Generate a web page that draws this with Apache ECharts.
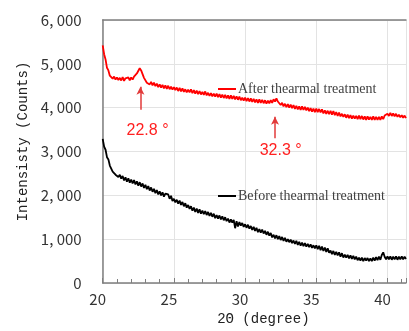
<!DOCTYPE html>
<html><head><meta charset="utf-8">
<script src="https://cdn.jsdelivr.net/npm/echarts@6/dist/echarts.min.js"></script>
<style>html,body{margin:0;padding:0;background:#fff}#c{width:409px;height:331px}</style>
</head><body><div id="c"></div>
<script>
const twoTheta = [
20.0,20.1,20.2,20.3,20.4,20.5,20.6,20.7,20.8,20.9,
21.0,21.1,21.2,21.3,21.4,21.5,21.6,21.7,21.8,21.9,
22.0,22.1,22.2,22.3,22.4,22.5,22.6,22.7,22.8,22.9,
23.0,23.1,23.2,23.3,23.4,23.5,23.6,23.7,23.8,23.9,
24.0,24.1,24.2,24.3,24.4,24.5,24.6,24.7,24.8,24.9,
25.0,25.1,25.2,25.3,25.4,25.5,25.6,25.7,25.8,25.9,
26.0,26.1,26.2,26.3,26.4,26.5,26.6,26.7,26.8,26.9,
27.0,27.1,27.2,27.3,27.4,27.5,27.6,27.7,27.8,27.9,
28.0,28.1,28.2,28.3,28.4,28.5,28.6,28.7,28.8,28.9,
29.0,29.1,29.2,29.3,29.4,29.5,29.6,29.7,29.8,29.9,
30.0,30.1,30.2,30.3,30.4,30.5,30.6,30.7,30.8,30.9,
31.0,31.1,31.2,31.3,31.4,31.5,31.6,31.7,31.8,31.9,
32.0,32.1,32.2,32.3,32.4,32.5,32.6,32.7,32.8,32.9,
33.0,33.1,33.2,33.3,33.4,33.5,33.6,33.7,33.8,33.9,
34.0,34.1,34.2,34.3,34.4,34.5,34.6,34.7,34.8,34.9,
35.0,35.1,35.2,35.3,35.4,35.5,35.6,35.7,35.8,35.9,
36.0,36.1,36.2,36.3,36.4,36.5,36.6,36.7,36.8,36.9,
37.0,37.1,37.2,37.3,37.4,37.5,37.6,37.7,37.8,37.9,
38.0,38.1,38.2,38.3,38.4,38.5,38.6,38.7,38.8,38.9,
39.0,39.1,39.2,39.3,39.4,39.5,39.6,39.7,39.8,39.9,
40.0,40.1,40.2,40.3,40.4,40.5,40.6,40.7,40.8,40.9,
41.0,41.1,41.2,41.3];

const afterTreatment = [
5420,5220,5100,4910,4850,4730,4740,4660,4710,4640,
4690,4630,4680,4620,4700,4610,4670,4630,4690,4620,
4690,4640,4710,4680,4780,4790,4900,4850,4820,4680,
4660,4570,4610,4530,4590,4510,4570,4490,4550,4470,
4530,4460,4520,4440,4510,4430,4500,4420,4480,4410,
4470,4400,4460,4380,4450,4370,4440,4360,4420,4350,
4410,4350,4420,4330,4400,4320,4390,4310,4380,4300,
4360,4290,4370,4280,4340,4270,4330,4260,4320,4250,
4320,4240,4310,4230,4300,4220,4290,4210,4280,4200,
4280,4200,4270,4190,4260,4180,4250,4170,4230,4160,
4230,4150,4220,4140,4210,4130,4200,4120,4190,4110,
4190,4110,4180,4100,4170,4090,4160,4100,4170,4110,
4190,4140,4210,4140,4160,4060,4110,4030,4090,4010,
4080,4000,4070,3990,4060,3970,4040,3960,4030,3950,
4030,3950,4020,3940,4000,3920,3990,3910,3980,3900,
3980,3900,3970,3890,3960,3870,3940,3860,3930,3850,
3930,3840,3920,3830,3900,3810,3890,3800,3860,3790,
3850,3770,3840,3760,3830,3750,3820,3750,3810,3740,
3820,3740,3810,3730,3800,3720,3800,3730,3790,3720,
3800,3720,3790,3720,3790,3720,3800,3740,3820,3790,
3860,3810,3880,3810,3870,3800,3860,3790,3840,3780,
3830,3770,3820,3760];

const beforeTreatment = [
3290,3110,3040,2870,2820,2680,2660,2540,2560,2470,
2510,2420,2470,2380,2440,2340,2410,2310,2390,2290,
2360,2270,2350,2250,2320,2220,2300,2200,2270,2170,
2240,2140,2210,2110,2180,2080,2150,2050,2120,2020,
2090,2000,2070,1970,2040,2080,2020,1920,1990,1870,
1920,1840,1900,1810,1880,1780,1850,1750,1820,1720,
1780,1690,1750,1650,1720,1620,1700,1600,1680,1580,
1650,1570,1640,1550,1620,1530,1600,1510,1580,1480,
1550,1470,1540,1450,1520,1430,1500,1410,1470,1380,
1450,1380,1440,1250,1410,1290,1390,1310,1370,1280,
1340,1260,1330,1240,1300,1210,1280,1190,1260,1160,
1230,1150,1220,1130,1190,1100,1170,1080,1140,1040,
1100,1020,1090,1000,1070,980,1050,960,1030,940,
1000,930,990,910,970,890,960,870,940,850,
920,840,910,830,890,820,880,800,860,790,
860,770,850,750,830,730,810,710,790,690,
740,660,730,640,710,630,700,600,680,580,
650,580,640,560,630,550,620,540,600,520,
580,510,580,500,570,510,570,500,560,500,
580,510,590,520,600,530,640,700,600,540,
610,540,610,530,600,540,610,530,600,540,
610,540,600,550];

const xTicks = [20, 25, 30, 35, 40];
const yTicks = [0, 1000, 2000, 3000, 4000, 5000, 6000];
const peaks = [
  {arrowX: 22.65, from: 3950, to: 4480, labelX: 23.15, labelY: 3470, text: '22.8 °'},
  {arrowX: 32.1, from: 3300, to: 3790, labelX: 32.5, labelY: 3020, text: '32.3 °'}
];
const seriesNames = ['After thearmal treatment', 'Before thearmal treatment'];

const pair = (xs, ys) => xs.map((x, i) => [x, ys[i]]);
const fmtY = v => v === 0 ? '0' : (Math.floor(v / 1000) + ', ' + String(v % 1000).padStart(3, '0'));

const chart = echarts.init(document.getElementById('c'), null, {renderer: 'canvas'});
const axisGray = '#7f7f7f';
chart.setOption({
  animation: false,
  grid: {left: 102.7, top: 20, right: 0, bottom: 44},
  legend: [
    {data: [seriesNames[0]], left: 213, top: 77, icon: 'rect', itemWidth: 18, itemHeight: 2,
     textStyle: {fontFamily: 'Liberation Serif', fontSize: 14, color: '#404040', padding: [0,0,0,-3]}},
    {data: [seriesNames[1]], left: 213, top: 184, icon: 'rect', itemWidth: 18, itemHeight: 2,
     textStyle: {fontFamily: 'Liberation Serif', fontSize: 14, color: '#404040', padding: [0,0,0,-3]}}
  ],
  xAxis: [{
    type: 'value', min: 20, max: 41.3, interval: 5,
    name: '2Θ (degree)', nameLocation: 'middle', nameGap: 29,
    nameTextStyle: {fontFamily: 'Liberation Mono', fontSize: 14, color: '#222', padding: [0,0,0,18]},
    axisLine: {show: true, lineStyle: {color: axisGray, width: 1.5}},
    axisTick: {show: true, inside: true, length: 5, lineStyle: {color: axisGray}},
    minorTick: {show: true, splitNumber: 5, length: 4, lineStyle: {color: axisGray}},
    axisLabel: {margin: 9, fontFamily: 'Noto Sans CJK JP', fontSize: 15, color: '#333', padding: [0,10,0,0],
      formatter: v => xTicks.includes(v) ? String(v) : ''},
    splitLine: {show: true, lineStyle: {color: '#e3e3e3', width: 1}}
  }, {
    type: 'value', position: 'top', min: 20, max: 41.3,
    axisLine: {show: true, lineStyle: {color: axisGray, width: 1.5}},
    axisTick: {show: false}, axisLabel: {show: false}, splitLine: {show: false}
  }],
  yAxis: {
    type: 'value', min: 0, max: 6000, interval: 1000,
    name: 'Intensisty (Counts)', nameLocation: 'middle', nameGap: 70,
    nameTextStyle: {fontFamily: 'Liberation Mono', fontSize: 14, color: '#222', padding: [0,0,0,20]},
    axisLine: {show: true, lineStyle: {color: axisGray, width: 1.5}},
    axisTick: {show: false},
    axisLabel: {margin: 21, fontFamily: 'Noto Sans CJK JP', fontSize: 15, color: '#333',
      formatter: v => yTicks.includes(v) ? fmtY(v) : ''},
    splitLine: {show: true, lineStyle: {color: '#e3e3e3', width: 1}}
  },
  series: [{
    name: seriesNames[0], type: 'line', data: pair(twoTheta, afterTreatment),
    showSymbol: false, symbol: 'none', color: '#ff0000',
    lineStyle: {color: '#ff0000', width: 1.8},
    markLine: {
      silent: true, symbol: ['none', 'arrow'], symbolSize: [6, 8],
      lineStyle: {color: '#e23a3a', width: 1.5, type: 'solid'},
      label: {show: false},
      data: peaks.map(p => [{coord: [p.arrowX, p.from]}, {coord: [p.arrowX, p.to]}])
    },
    markPoint: {
      silent: true, symbol: 'circle', symbolSize: 0,
      label: {show: true, position: 'inside', color: '#ff2020', fontFamily: 'Liberation Sans', fontSize: 16,
        formatter: p => p.name},
      data: peaks.map(p => ({name: p.text, coord: [p.labelX, p.labelY]}))
    }
  }, {
    name: seriesNames[1], type: 'line', data: pair(twoTheta, beforeTreatment),
    showSymbol: false, symbol: 'none', color: '#000000',
    lineStyle: {color: '#000000', width: 1.8}
  }]
});
</script>
</body></html>
